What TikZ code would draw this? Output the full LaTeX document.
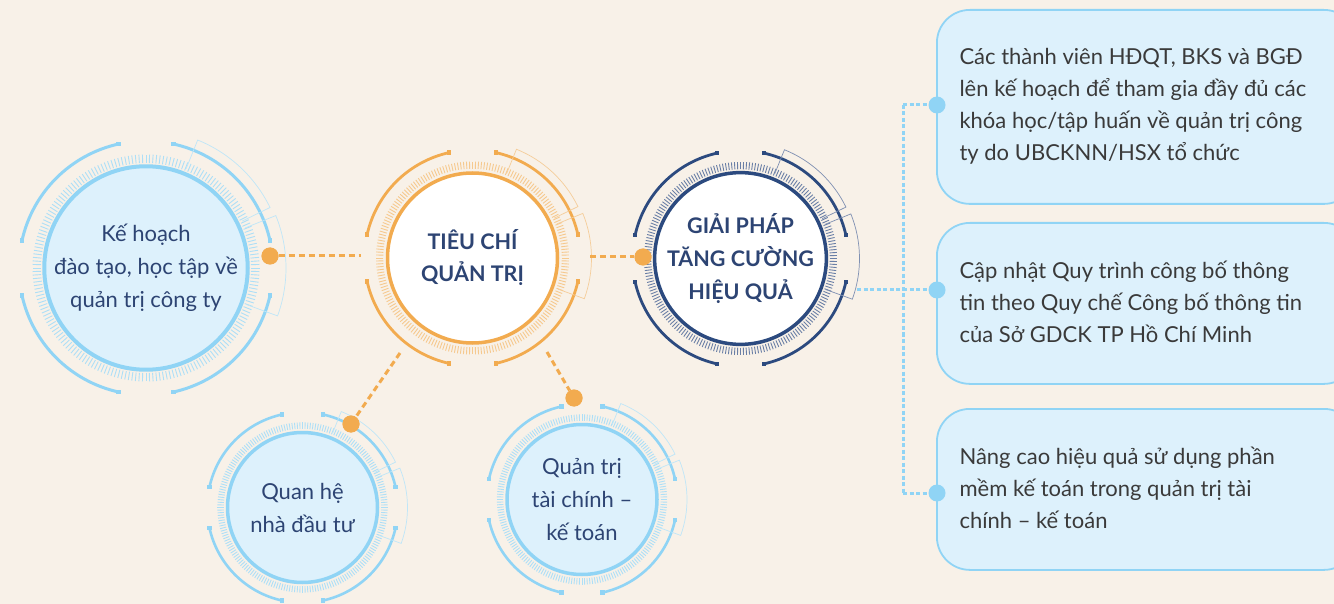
\documentclass[tikz,border=0pt]{standalone}
\usepackage{fontspec}
\setmainfont{Lato}
\definecolor{bg}{HTML}{F8F1E8}
\definecolor{lb}{HTML}{90D4F5}
\definecolor{lbtick}{HTML}{ADDFF7}
\definecolor{lbbr}{HTML}{BFE6F8}
\definecolor{lbfill}{HTML}{DDF1FC}
\definecolor{org}{HTML}{F2AB4F}
\definecolor{orgtick}{HTML}{F6C98E}
\definecolor{orgbr}{HTML}{F5CD9A}
\definecolor{nv}{HTML}{2C4A7F}
\definecolor{nvtick}{HTML}{6A7FA6}
\definecolor{nvbr}{HTML}{7F90B2}
\definecolor{ctext}{HTML}{2D4473}
\definecolor{btext}{HTML}{3A3A3A}
\newcommand\gauge[6]{% #1 center, #2 r, #3 main, #4 tick, #5 bracket, #6 line width
\begin{scope}[shift={#1}]
\foreach \a in {0,1.8,...,358.3}{\draw[#4,line width=0.9pt] (\a:{1.05*#2}) -- (\a:{1.135*#2});}
\foreach \k in {0,90,180,270}{%
  \draw[#3,line width=#6] ({\k+12.5}:{1.27*#2}) arc[start angle={\k+12.5}, end angle={\k+77.5}, radius={1.27*#2}];
  \fill[#3] ({\k+12.5}:{1.27*#2}) +(-2.2,-2.2) rectangle +(2.2,2.2);
  \fill[#3] ({\k+77.5}:{1.27*#2}) +(-2.2,-2.2) rectangle +(2.2,2.2);
}
\draw[#5,line width=0.7pt] (-68:{1.07*#2}) -- (-68:{1.38*#2}) arc[start angle=-68,end angle=-26,radius={1.38*#2}] -- (-26:{1.07*#2});
\draw[#5,line width=0.7pt] (-22:{1.07*#2}) -- (-22:{1.40*#2}) arc[start angle=-22,end angle=20,radius={1.40*#2}] -- (20:{1.07*#2});
\end{scope}}
\begin{document}
\begin{tikzpicture}[x=1pt,y=-1pt,
  ring/.style={circle,inner sep=0pt,align=center,text=ctext},
  obox/.style={draw=lb,line width=1.8pt,fill=lbfill,rounded corners=33pt,anchor=north west,minimum width=420pt},
  btxt/.style={anchor=west,align=left,text=btext,font=\fontsize{22}{32}\selectfont},
  odash/.style={org,line width=3pt,dash pattern=on 6pt off 4pt},
  bdash/.style={lb,line width=3pt,dash pattern=on 4pt off 2.5pt},
  odot/.style={circle,fill=org,inner sep=0pt,minimum size=17pt},
  bdot/.style={circle,fill=lb,inner sep=0pt,minimum size=17pt}]
\clip (0,0) rectangle (1334,604);
\fill[bg] (0,0) rectangle (1334,604);
% gauges
\gauge{(146,268)}{100}{lb}{lbtick}{lbbr}{3pt}
\gauge{(472.5,258)}{85}{org}{orgtick}{orgbr}{2.8pt}
\gauge{(740.5,258.5)}{85}{nv}{nvtick}{nvbr}{2.8pt}
\gauge{(302.5,507.5)}{75}{lb}{lbtick}{lbbr}{2.6pt}
\gauge{(582,499.5)}{75}{lb}{lbtick}{lbbr}{2.6pt}
% circles
\node[ring,draw=lb,fill=lbfill,line width=4pt,minimum size=200pt,font=\fontsize{22}{33}\selectfont] (K) at (146,268) {Kế hoạch\\đào tạo, học tập về\\quản trị công ty};
\node[ring,draw=org,fill=white,line width=3.5pt,minimum size=170pt,font=\bfseries\fontsize{21.5}{32}\selectfont] (T) at (472.5,258) {TIÊU CHÍ\\QUẢN TRỊ};
\node[ring,draw=nv,fill=white,line width=3.5pt,minimum size=170pt,font=\bfseries\fontsize{21.5}{33}\selectfont] (G) at (740.5,258.5) {GIẢI PHÁP\\TĂNG CƯỜNG\\HIỆU QUẢ};
\node[ring,draw=lb,fill=lbfill,line width=3.5pt,minimum size=150pt,font=\fontsize{22}{33}\selectfont] (Q) at (302.5,507.5) {Quan hệ\\nhà đầu tư};
\node[ring,draw=lb,fill=lbfill,line width=3.5pt,minimum size=150pt,font=\fontsize{22}{33}\selectfont] (F) at (582,499.5) {Quản trị\\tài chính –\\kế toán};
% boxes
\node[obox,minimum height=194pt] (B1) at (936,9) {};
\node[obox,minimum height=161pt] (B2) at (936,222) {};
\node[obox,minimum height=161pt] (B3) at (936,408) {};
\node[btxt] (T1) at (956,106) {Các thành viên HĐQT, BKS và BGĐ\\lên kế hoạch để tham gia đầy đủ các\\khóa học/tập huấn về quản trị công\\ty do UBCKNN/HSX tổ chức};
\node[btxt] (T2) at (956,302) {Cập nhật Quy trình công bố thông\\tin theo Quy chế Công bố thông tin\\của Sở GDCK TP Hồ Chí Minh};
\node[btxt] (T3) at (956,488) {Nâng cao hiệu quả sử dụng phần\\mềm kế toán trong quản trị tài\\chính – kế toán};
% connector points
\coordinate (tL) at (361,256);
\coordinate (tR) at (590,257);
\coordinate (tBL) at (400,353);
\coordinate (tBR) at (547,352);
\coordinate (gR) at (857,290);
\coordinate (j1) at (903,105);
\coordinate (j2) at (903,290);
\coordinate (j3) at (903,493);
\node[odot] (kd) at (270,256) {};
\node[odot] (gd) at (643,257) {};
\node[odot] (qd) at (351,424) {};
\node[odot] (fd) at (574,398) {};
% connectors
\draw[odash] (kd) -- (tL);
\draw[odash] (tR) -- (gd);
\draw[odash] (tBL) -- (qd);
\draw[odash] (tBR) -- (fd);
\draw[bdash] (gR) -- (j2);
\draw[bdash] (j1) -- (j3);
\draw[bdash] (j1) -- (937,105);
\draw[bdash] (j2) -- (937,290);
\draw[bdash] (j3) -- (937,493);
\node[bdot] (d1) at (937,105) {};
\node[bdot] (d2) at (937,290) {};
\node[bdot] (d3) at (937,493) {};
\node[odot] at (kd) {};
\node[odot] at (gd) {};
\node[odot] at (qd) {};
\node[odot] at (fd) {};
\end{tikzpicture}
\end{document}
